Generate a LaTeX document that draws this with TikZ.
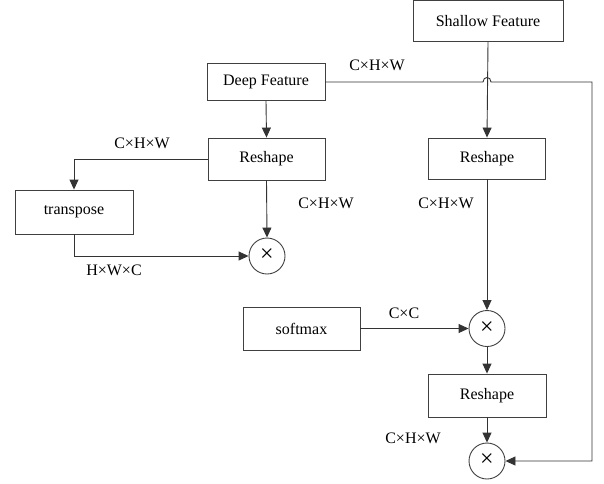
\documentclass[tikz,border=0pt]{standalone}
\usepackage{fontspec}
\setmainfont{Liberation Serif}
\usetikzlibrary{arrows.meta}
\begin{document}
\begin{tikzpicture}[x=1pt,y=-1pt,
  every node/.style={font=\fontsize{16}{18}\selectfont},
  box/.style={draw=black!75, line width=0.9pt, rectangle, inner sep=0pt},
  op/.style={draw=black!75, line width=0.9pt, circle, minimum size=36pt, inner sep=0pt, font=\fontsize{24}{24}\selectfont},
  lbl/.style={inner sep=0pt},
  conn/.style={draw=black!80, line width=0.9pt},
  arr/.style={conn, -{Triangle[length=10pt,width=9pt]}}]
\useasboundingbox (0,0) rectangle (604,483);
% boxes
\node[box, minimum width=150pt, minimum height=41pt] (sh) at (488,21) {Shallow Feature};
\node[box, minimum width=118pt, minimum height=37pt] (deep) at (266,82) {Deep Feature};
\node[box, minimum width=117pt, minimum height=42pt] (r1) at (266.5,159) {Reshape};
\node[box, minimum width=118pt, minimum height=44pt] (tr) at (74,212) {transpose};
\node[op] (c1) at (267,256) {\raisebox{1pt}{×}};
\node[box, minimum width=117pt, minimum height=41pt] (r2) at (487,158.5) {Reshape};
\node[box, minimum width=117pt, minimum height=43pt] (sm) at (301.5,328.5) {softmax};
\node[op] (c2) at (487,328.5) {\raisebox{1pt}{×}};
\node[box, minimum width=118pt, minimum height=43pt] (r3) at (487,395.5) {Reshape};
\node[op] (c3) at (487,461) {\raisebox{1pt}{×}};
% labels
\node[lbl] (l1) at (377,65) {C×H×W};
\node[lbl] (l2) at (142,143) {C×H×W};
\node[lbl] (l3) at (326,203) {C×H×W};
\node[lbl] (l4) at (114,270) {H×W×C};
\node[lbl] (l5) at (446,203) {C×H×W};
\node[lbl] (l6) at (404,313) {C×C};
\node[lbl] (l7) at (413,438) {C×H×W};
% connectors
\coordinate (j1) at (483,82);
\coordinate (j2) at (491,82);
\coordinate (rc) at (592,82);
\draw[arr] (deep.east) -- (j1) .. controls +(0,-6) and +(0,-6) .. (j2) -- (rc) |- (c3.east);
\draw[arr] (deep.south) -- (r1.north);
\draw[arr] (r1.west) -| (tr.north);
\draw[arr] (tr.south) |- (c1.west);
\draw[arr] (r1.south) -- (c1.north);
\draw[arr] (sh.south) -- (r2.north);
\draw[arr] (r2.south) -- (c2.north);
\draw[arr] (sm.east) -- (c2.west);
\draw[arr] (c2.south) -- (r3.north);
\draw[arr] (r3.south) -- (c3.north);
\end{tikzpicture}
\end{document}
